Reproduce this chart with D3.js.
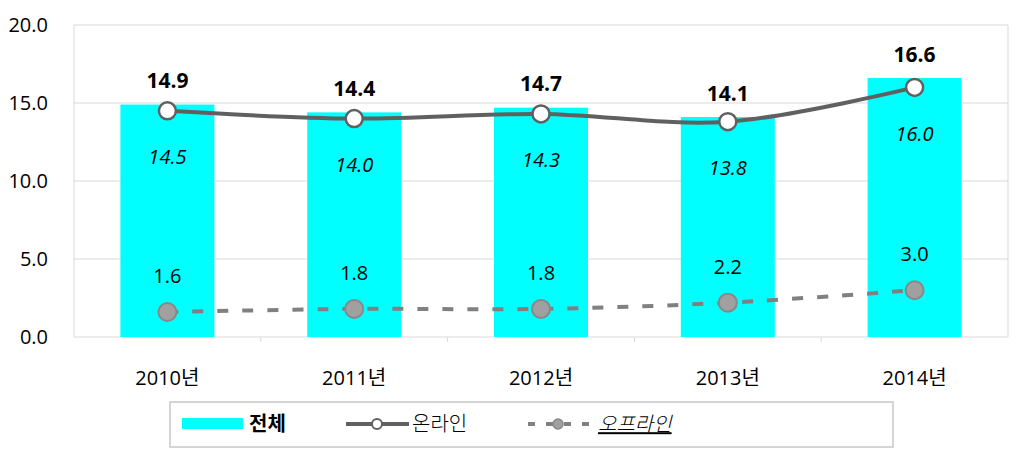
<!DOCTYPE html>
<html><head><meta charset="utf-8">
<script src="https://cdn.jsdelivr.net/npm/d3@7"></script>
<style>body{margin:0;background:#fff;} text{font-family:"Open Sans","Noto Sans CJK KR",sans-serif;}</style>
</head><body><svg id="c" width="1024" height="463"></svg>
<script>
const categories = ["2010년","2011년","2012년","2013년","2014년"];
const totalValues = [14.9,14.4,14.7,14.1,16.6];
const onlineValues = [14.5,14.0,14.3,13.8,16.0];
const offlineValues = [1.6,1.8,1.8,2.2,3.0];
const yTicks = [0,5,10,15,20];
const seriesNames = ["전체","온라인","오프라인"];

const svg = d3.select("#c");
const L=74,R=1008,T=25,B=337;
const x = d3.scaleBand().domain(categories).range([L,R]);
const y = d3.scaleLinear().domain([0,20]).range([B,T]);
const cx = d => x(d)+x.bandwidth()/2;

// grid
svg.append("g").selectAll("line").data(yTicks).join("line")
  .attr("x1",L).attr("x2",R).attr("y1",d=>y(d)).attr("y2",d=>y(d))
  .attr("stroke","#d9d9d9").attr("stroke-width",1);
svg.append("line").attr("x1",L).attr("x2",L).attr("y1",T).attr("y2",B).attr("stroke","#d9d9d9");
svg.append("line").attr("x1",R).attr("x2",R).attr("y1",T).attr("y2",B).attr("stroke","#d9d9d9");
svg.append("g").selectAll("line").data(categories.slice(1)).join("line")
  .attr("x1",d=>x(d)).attr("x2",d=>x(d)).attr("y1",B).attr("y2",B+5).attr("stroke","#d9d9d9");

// y labels
svg.append("g").selectAll("text").data(yTicks).join("text")
  .attr("x",48).attr("y",d=>y(d)).attr("dy","0.36em").attr("text-anchor","end")
  .attr("font-size",20).attr("fill","#000").text(d=>d.toFixed(1));
// x labels
svg.append("g").selectAll("text").data(categories).join("text")
  .attr("x",d=>cx(d)).attr("y",378).attr("dy","0.36em").attr("text-anchor","middle")
  .attr("font-size",20).attr("fill","#000").text(d=>d);

// bars
const bw = 94;
svg.append("g").selectAll("rect").data(categories).join("rect")
  .attr("x",d=>cx(d)-bw/2).attr("width",bw)
  .attr("y",(d,i)=>y(totalValues[i])).attr("height",(d,i)=>B-y(totalValues[i]))
  .attr("fill","#00ffff");

// lines
const line = d3.line().x((d,i)=>cx(categories[i])).y(d=>y(d)).curve(d3.curveCatmullRom.alpha(0.5));
svg.append("path").attr("d",line(offlineValues)).attr("fill","none")
  .attr("stroke","#808080").attr("stroke-width",4).attr("stroke-dasharray","11,14");
svg.append("path").attr("d",line(onlineValues)).attr("fill","none")
  .attr("stroke","#606060").attr("stroke-width",4);

// markers
svg.append("g").selectAll("circle").data(offlineValues).join("circle")
  .attr("cx",(d,i)=>cx(categories[i])).attr("cy",d=>y(d)).attr("r",9)
  .attr("fill","#a0a0a0").attr("stroke","#888").attr("stroke-width",2);
svg.append("g").selectAll("circle").data(onlineValues).join("circle")
  .attr("cx",(d,i)=>cx(categories[i])).attr("cy",d=>y(d)).attr("r",8.5)
  .attr("fill","#fff").attr("stroke","#606060").attr("stroke-width",2.5);

// labels
svg.append("g").selectAll("text").data(totalValues).join("text")
  .attr("x",(d,i)=>cx(categories[i])).attr("y",d=>y(d)-24).attr("dy","0.36em")
  .attr("text-anchor","middle").attr("font-size",21).attr("font-weight","bold").attr("fill","#000")
  .text(d=>d.toFixed(1));
svg.append("g").selectAll("text").data(onlineValues).join("text")
  .attr("x",(d,i)=>cx(categories[i])).attr("y",d=>y(d)+46).attr("dy","0.36em")
  .attr("text-anchor","middle").attr("font-size",20).attr("font-style","italic").attr("fill","#000")
  .text(d=>d.toFixed(1));
svg.append("g").selectAll("text").data(offlineValues).join("text")
  .attr("x",(d,i)=>cx(categories[i])).attr("y",d=>y(d)-36).attr("dy","0.36em")
  .attr("text-anchor","middle").attr("font-size",20).attr("fill","#000")
  .text(d=>d.toFixed(1));

// legend
const lg = svg.append("g");
lg.append("rect").attr("x",170).attr("y",402).attr("width",723).attr("height",45)
  .attr("fill","#fff").attr("stroke","#c8c8c8").attr("stroke-width",1.5);
lg.append("rect").attr("x",182).attr("y",418).attr("width",61).attr("height",11).attr("fill","#00ffff");
lg.append("text").attr("x",249).attr("y",424).attr("dy","0.36em").attr("font-size",20)
  .attr("font-weight","bold").style("font-family","'Noto Sans CJK KR'").text(seriesNames[0]);
lg.append("line").attr("x1",346).attr("x2",409).attr("y1",424).attr("y2",424)
  .attr("stroke","#606060").attr("stroke-width",4);
lg.append("circle").attr("cx",377).attr("cy",424).attr("r",5).attr("fill","#fff")
  .attr("stroke","#606060").attr("stroke-width",2);
lg.append("text").attr("x",412).attr("y",424).attr("dy","0.36em").attr("font-size",20)
  .style("font-family","'Noto Sans CJK KR'").attr("font-weight",300).text(seriesNames[1]);
lg.append("line").attr("x1",528).attr("x2",590).attr("y1",424).attr("y2",424)
  .attr("stroke","#808080").attr("stroke-width",4).attr("stroke-dasharray","7,11");
lg.append("circle").attr("cx",558).attr("cy",424).attr("r",5).attr("fill","#a0a0a0")
  .attr("stroke","#888").attr("stroke-width",1.5);
lg.append("text").attr("x",598).attr("y",424).attr("dy","0.36em").attr("font-size",20)
  .style("font-family","'Noto Sans CJK KR'").attr("font-weight",300)
  .attr("font-style","italic").attr("text-decoration","underline").text(seriesNames[2]);
</script></body></html>
